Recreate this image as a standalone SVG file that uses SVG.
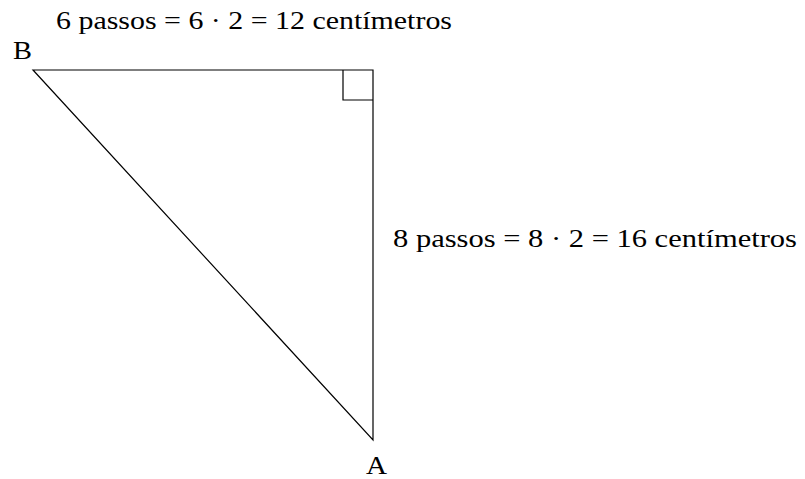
<svg xmlns="http://www.w3.org/2000/svg" width="805" height="479" viewBox="0 0 805 479">
<style>
text{font-family:"Liberation Serif","Times New Roman",serif;font-size:25px;fill:#000}
.ln{fill:none;stroke:#000;stroke-width:1.2}
</style>
<rect width="805" height="479" fill="#fff"/>
<g id="triangle">
<polygon class="ln" points="33,70 373,70 373,440"/>
<polyline class="ln" points="343,70 343,100 373,100"/>
</g>
<g id="labels">
<text x="56" y="29" textLength="396" lengthAdjust="spacingAndGlyphs">6 passos = 6 · 2 = 12 centímetros</text>
<text x="13" y="59" textLength="19" lengthAdjust="spacingAndGlyphs">B</text>
<text x="366" y="474" textLength="21" lengthAdjust="spacingAndGlyphs">A</text>
<text x="393" y="247" textLength="404" lengthAdjust="spacingAndGlyphs">8 passos = 8 · 2 = 16 centímetros</text>
</g>
</svg>
